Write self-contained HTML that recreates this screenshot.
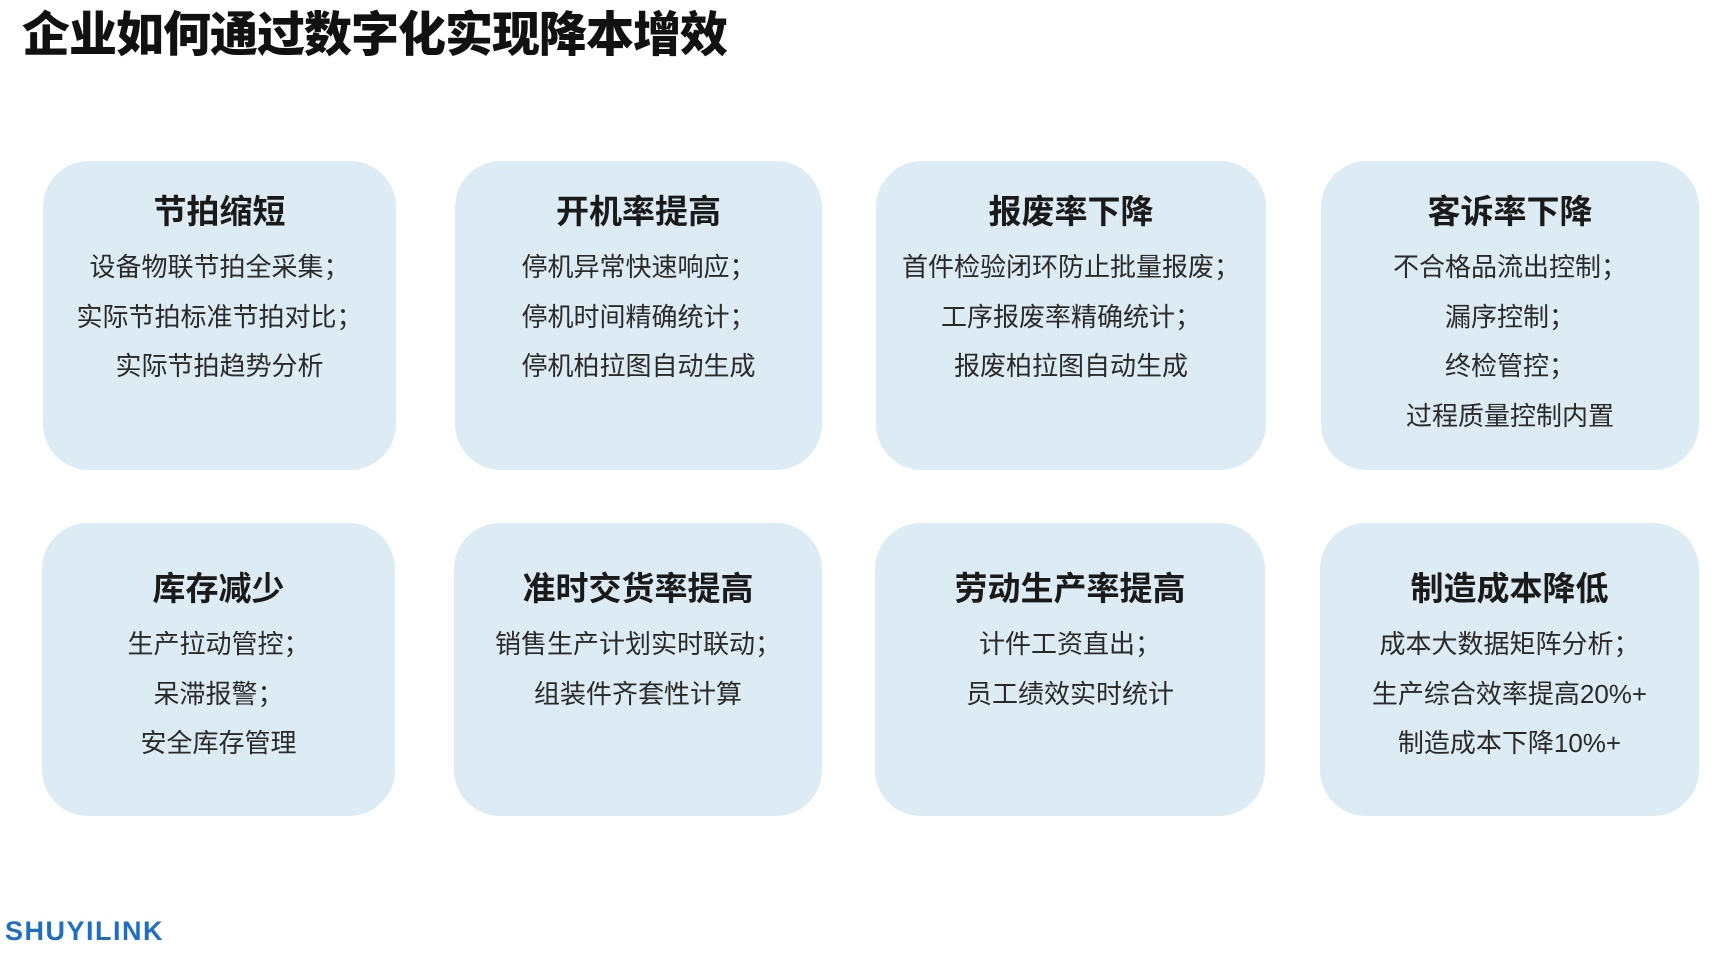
<!DOCTYPE html>
<html><head><meta charset="utf-8"><style>
body{margin:0;width:1714px;height:957px;background:#fff;position:relative;overflow:hidden;font-family:"Liberation Sans","Noto Sans CJK SC",sans-serif;color:#222}
h1{position:absolute;left:22px;top:6px;margin:0;font-size:48px;font-weight:900;color:#111;letter-spacing:-1px;line-height:60px}
.c{position:absolute;background:#dcebf4;border-radius:46px;text-align:center}
.c b{position:absolute;left:0;right:0;font-size:33px;line-height:40px;color:#1a1a1a}
.c p{position:absolute;left:0;right:0;margin:0;font-size:26px;line-height:49.5px;color:#2a2a2a}
.logo{position:absolute;left:5px;top:916px;font-size:27px;font-weight:900;color:#1f6fbe;letter-spacing:1.5px}
</style></head><body>
<h1>企业如何通过数字化实现降本增效</h1>

<div class="c" style="left:43px;top:161px;width:353px;height:309px"><b style="top:31px">节拍缩短</b><p style="top:82px">设备物联节拍全采集；<br>实际节拍标准节拍对比；<br>实际节拍趋势分析</p></div>
<div class="c" style="left:455px;top:161px;width:367px;height:309px"><b style="top:31px">开机率提高</b><p style="top:82px">停机异常快速响应；<br>停机时间精确统计；<br>停机柏拉图自动生成</p></div>
<div class="c" style="left:876px;top:161px;width:390px;height:309px"><b style="top:31px">报废率下降</b><p style="top:82px">首件检验闭环防止批量报废；<br>工序报废率精确统计；<br>报废柏拉图自动生成</p></div>
<div class="c" style="left:1321px;top:161px;width:378px;height:309px"><b style="top:31px">客诉率下降</b><p style="top:82px">不合格品流出控制；<br>漏序控制；<br>终检管控；<br>过程质量控制内置</p></div>

<div class="c" style="left:42px;top:523px;width:353px;height:293px"><b style="top:46px">库存减少</b><p style="top:97px">生产拉动管控；<br>呆滞报警；<br>安全库存管理</p></div>
<div class="c" style="left:454px;top:523px;width:368px;height:293px"><b style="top:46px">准时交货率提高</b><p style="top:97px">销售生产计划实时联动；<br>组装件齐套性计算</p></div>
<div class="c" style="left:875px;top:523px;width:390px;height:293px"><b style="top:46px">劳动生产率提高</b><p style="top:97px">计件工资直出；<br>员工绩效实时统计</p></div>
<div class="c" style="left:1320px;top:523px;width:379px;height:293px"><b style="top:46px">制造成本降低</b><p style="top:97px">成本大数据矩阵分析；<br>生产综合效率提高20%+<br>制造成本下降10%+</p></div>

<div class="logo">SHUYILINK</div>
</body></html>
